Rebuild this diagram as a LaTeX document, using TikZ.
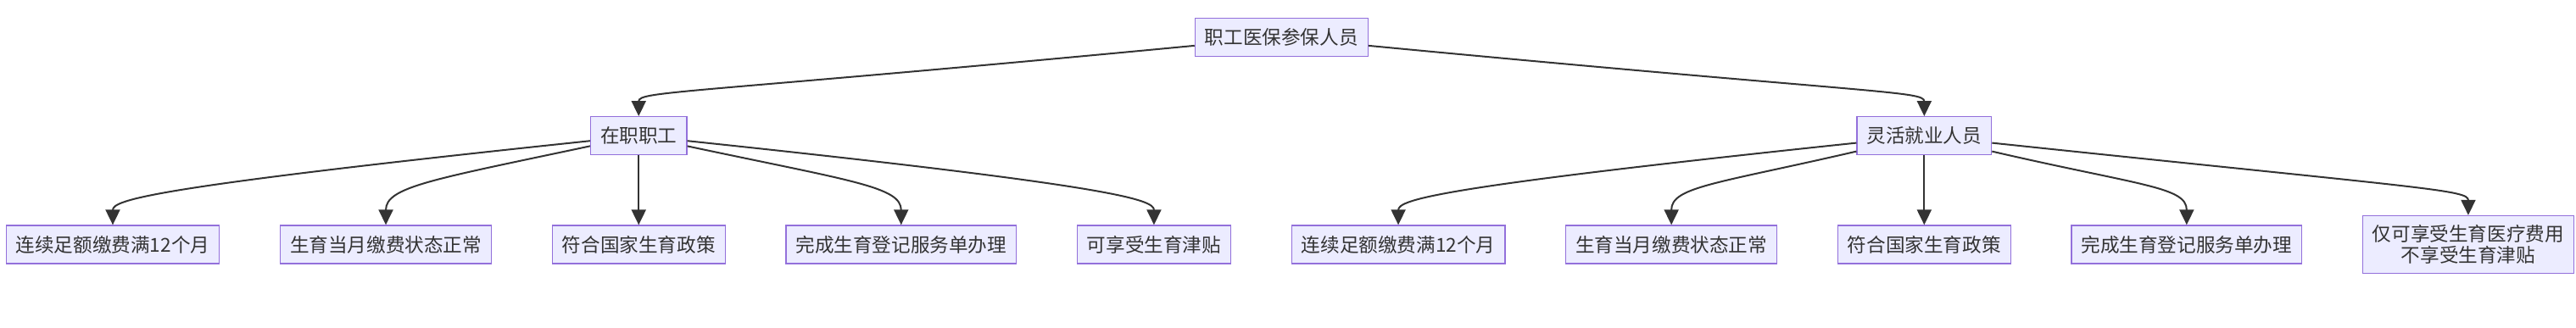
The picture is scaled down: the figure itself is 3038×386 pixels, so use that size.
\documentclass[tikz,border=0pt]{standalone}
\usepackage{fontspec}
\setmainfont{Noto Sans CJK SC}
\usetikzlibrary{arrows.meta, positioning, calc}
\definecolor{mmfill}{HTML}{ECECFF}
\definecolor{mmline}{HTML}{9370DB}
\definecolor{mmedge}{HTML}{333333}

\begin{document}
\begin{tikzpicture}[
    node distance=70.5pt,
    box/.style={rectangle, draw=mmline, fill=mmfill, line width=1.3pt, text=mmedge, align=center, minimum height=45pt, inner xsep=11.5pt, inner ysep=11pt, font=\fontsize{22.6pt}{25pt}\selectfont},
    arrow/.style={-{Triangle[length=18pt, width=17pt]}, line width=2pt, draw=mmedge},
    longarc/.style={in=90, out distance=#1, in distance=30pt},
    shortarc/.style={in=90, out distance=#1, in distance=45pt}
]

\useasboundingbox (0,0) rectangle (3038pt,-386pt);

% 在职职工
\node[box] (l1) at (133pt,-288.5pt) {连续足额缴费满12个月};
\node[box, right=of l1] (l2) {生育当月缴费状态正常};
\node[box, right=of l2] (l3) {符合国家生育政策};
\node[box, right=of l3] (l4) {完成生育登记服务单办理};
\node[box, right=of l4] (l5) {可享受生育津贴};

% 灵活就业人员
\node[box, right=of l5] (r1) {连续足额缴费满12个月};
\node[box, right=of r1] (r2) {生育当月缴费状态正常};
\node[box, right=of r2] (r3) {符合国家生育政策};
\node[box, right=of r3] (r4) {完成生育登记服务单办理};
\node[box, right=of r4] (r5) {仅可享受生育医疗费用\\不享受生育津贴};

\node[box, above=82pt of l3] (emp) {在职职工};
\node[box, above=82pt of r3] (flex) {灵活就业人员};
\node[box, yshift=116pt] (root) at ($(emp)!0.5!(flex)$) {职工医保参保人员};

\draw[arrow] (root) to[out=185.5, longarc=600pt] (emp);
\draw[arrow] (root) to[out=-5.5, longarc=600pt] (flex);

\draw[arrow] (emp) to[out=186, longarc=515pt] (l1);
\draw[arrow] (emp) to[out=192, shortarc=190pt] (l2);
\draw[arrow] (emp) -- (l3);
\draw[arrow] (emp) to[out=-12, shortarc=198pt] (l4);
\draw[arrow] (emp) to[out=-6, longarc=508pt] (l5);

\draw[arrow] (flex) to[out=186, longarc=496pt] (r1);
\draw[arrow] (flex) to[out=193, shortarc=170pt] (r2);
\draw[arrow] (flex) -- (r3);
\draw[arrow] (flex) to[out=-13, shortarc=180pt] (r4);
\draw[arrow] (flex) to[out=-6, longarc=518pt] (r5);

\end{tikzpicture}
\end{document}
